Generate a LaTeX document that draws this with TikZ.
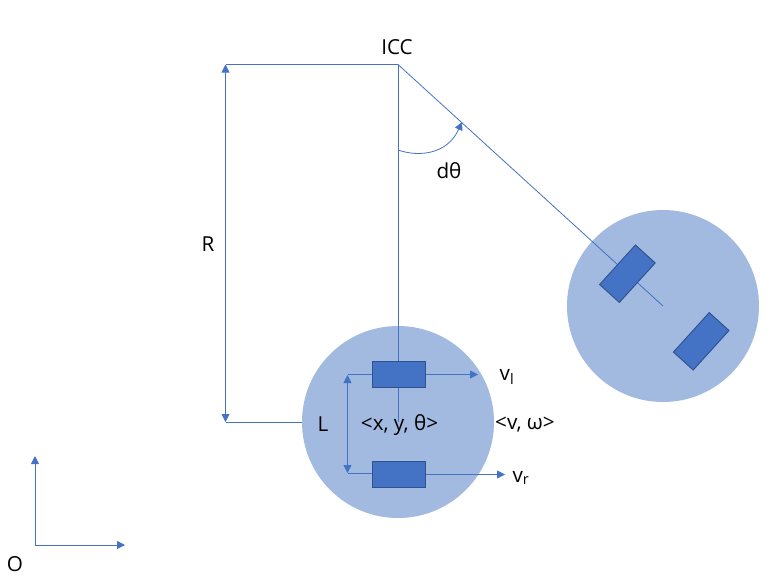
\documentclass[tikz,border=0pt]{standalone}
\usepackage{fontspec}
\setmainfont{Open Sans}
\usetikzlibrary{arrows.meta}
\definecolor{linecol}{HTML}{4472C4}
\definecolor{robotcol}{HTML}{A2B9E0}
\definecolor{edgecol}{HTML}{2F528F}
\tikzset{
	>={Triangle[length=6pt,width=6pt]},
	conn/.style={draw=linecol,line width=0.6pt},
	robot/.style={circle,fill=robotcol,inner sep=0pt,minimum size=144pt},
	wheel/.style={rectangle,fill=linecol,draw=edgecol,line width=0.7pt,inner sep=0pt,minimum width=40pt,minimum height=20pt},
	lbl/.style={inner sep=0pt,font=\fontsize{15.5}{18}\selectfont}
}
\begin{document}
\begin{tikzpicture}[x=0.75pt,y=-0.75pt]
	\useasboundingbox (0,0) rectangle (782,583);
	\node[robot] (robotA) at (398,422) {};
	\node[robot] (robotB) at (663,306) {};
	\coordinate (icc) at (398,64.5);
	\coordinate (Rtop) at (225.5,64.5);
	\coordinate (Rbot) at (225.5,422);
	\coordinate (Ltop) at (347.5,375);
	\coordinate (Lbot) at (347.5,473);
	\coordinate (arcstart) at (398,150);
	\coordinate (arcend) at (462,122);
	\coordinate (vltip) at (478,374.5);
	\coordinate (vrtip) at (505,474.5);
	\coordinate (origin) at (35,545);
	\coordinate (yaxis) at (35,456);
	\coordinate (xaxis) at (125,545);
	% lines under the wheels
	\draw[conn] (icc) -- (robotA.center);
	\draw[conn] (icc) -- (robotB.center);
	\node[wheel] (wheelL) at (399,374.5) {};
	\node[wheel] (wheelR) at (399,474.5) {};
	\node[wheel,rotate=47.8] (wheelBL) at (627.4,273.7) {};
	\node[wheel,rotate=47.8] (wheelBR) at (701.2,341.3) {};
	\draw[conn] (Rtop) -- (icc);
	\draw[conn,<->] (Rtop) -- (Rbot);
	\draw[conn] (Rbot) -- (robotA.west);
	\draw[conn,->] (arcstart) .. controls (418,157) and (447,155) .. (arcend);
	\draw[conn] (wheelL.west) -- (wheelL.west -| Ltop);
	\draw[conn] (Lbot -| wheelR.west) -- (Lbot);
	\draw[conn,<->] (Ltop) -- (Lbot);
	\draw[conn,->] (wheelL.east) -- (vltip);
	\draw[conn,->] (wheelR.east) -- (vrtip);
	\draw[conn,->] (origin) -- (yaxis);
	\draw[conn,->] (origin) -- (xaxis);
	% labels
	\node[lbl] (iccl) at (397,47) {ICC};
	\node[lbl] (dth) at (449,171) {dθ};
	\node[lbl] (Rl) at (208,244) {R};
	\node[lbl] (Ll) at (323,424) {L};
	\node[lbl] (pose) at (399.5,425) {<x, y, θ>};
	\node[lbl] (vel) at (525,425) {<v, ω>};
	\node[lbl] (vll) at (507,377) {v\textsubscript{l}};
	\node[lbl] (vrl) at (521,478) {v\textsubscript{r}};
	\node[lbl] (ol) at (15,564) {O};
\end{tikzpicture}
\end{document}
